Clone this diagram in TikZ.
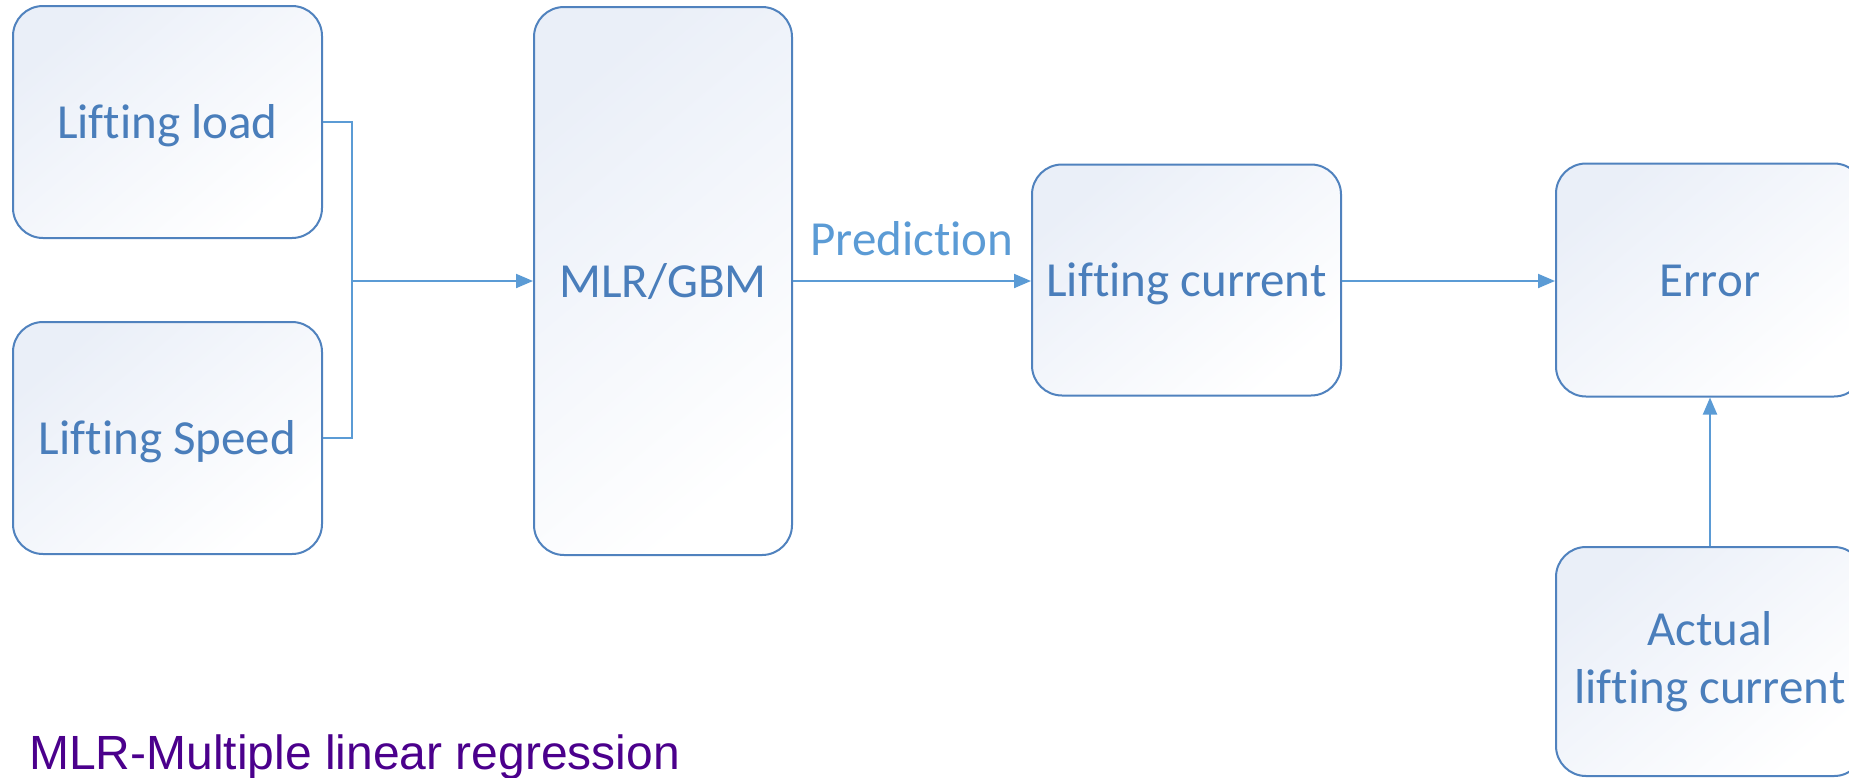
\documentclass[tikz,border=0pt]{standalone}
\usepackage{fontspec}
\setmainfont[Ligatures=NoCommon]{Carlito}
\newfontfamily\notefont{Liberation Sans}
\usetikzlibrary{arrows.meta}
\definecolor{boxline}{RGB}{80,130,190}
\definecolor{boxtext}{RGB}{74,126,187}
\definecolor{wire}{RGB}{91,155,213}
\definecolor{boxtint}{RGB}{234,239,248}
\definecolor{notecol}{RGB}{75,0,140}
\tikzset{
  block/.style={draw=boxline, line width=2pt, rounded corners=30pt,
    top color=boxtint, bottom color=white, shading angle=40,
    text=boxtext, align=center, inner sep=0pt,
    font=\fontsize{49}{58}\selectfont},
  oneline/.style={text height=34pt, text depth=2pt},
  wireline/.style={draw=wire, line width=2pt},
  arrowline/.style={wireline, -{Triangle[length=17pt,width=14pt]}},
}
\begin{document}
\begin{tikzpicture}[x=1pt,y=-1pt]
  \path[use as bounding box, clip] (0,0) rectangle (1849,777);

  % blocks
  \node[block, oneline, minimum width=309pt, minimum height=232pt] (load)  at (167.5,122) {Lifting load};
  \node[block, oneline, minimum width=309pt, minimum height=232pt] (speed) at (167.5,438) {Lifting Speed};
  \node[block, oneline, minimum width=258pt, minimum height=548pt] (model) at (663,281) {MLR/GBM};
  \node[block, oneline, minimum width=309pt, minimum height=231pt] (cur)   at (1186.5,280) {Lifting current};
  \node[block, oneline, minimum width=308pt, minimum height=233pt] (err)   at (1710,280) {Error};
  \node[block, minimum width=308pt, minimum height=229pt] (act)   at (1710,661.5) {Actual\\lifting current};

  % inputs merged into one feed line
  \coordinate (bus) at (352,281);
  \draw[wireline] (load.east) -| (bus) |- (speed.east);
  \draw[arrowline] (bus) -- (model.west);

  \draw[arrowline] (model.east |- bus) -- node[anchor=base, yshift=26pt, inner sep=0pt, text=wire, font=\fontsize{49}{58}\selectfont] (pred) {Prediction} (cur.west |- bus);
  \draw[arrowline] (cur.east |- bus) -- (err.west |- bus);
  \draw[arrowline] (act.north) -- (err.south);

  % abbreviation note
  \node[anchor=base west, text=notecol, inner sep=0pt, font=\notefont\fontsize{48}{58}\selectfont] (note) at (29,769) {MLR-Multiple linear regression};
\end{tikzpicture}
\end{document}
